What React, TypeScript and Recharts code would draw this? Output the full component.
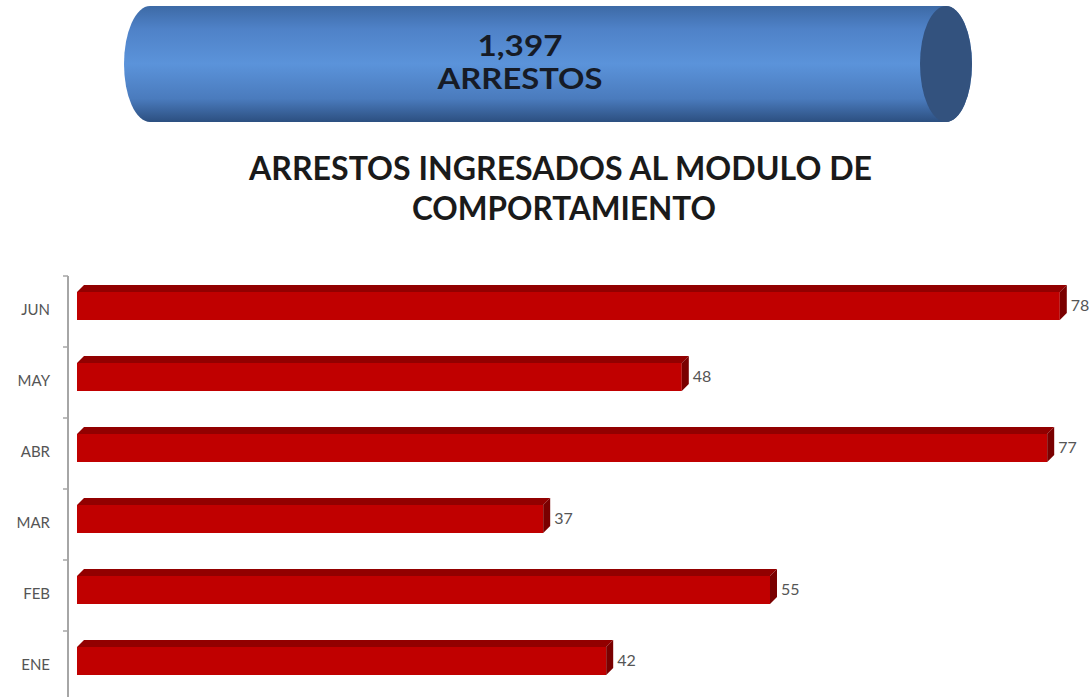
import React from 'react';
import { BarChart, Bar, XAxis, YAxis, LabelList } from 'recharts';

const months = ['JUN', 'MAY', 'ABR', 'MAR', 'FEB', 'ENE'];
const arrests = [78, 48, 77, 37, 55, 42];
const totalArrests = '1,397';
const totalLabel = 'ARRESTOS';
const titleLines = ['ARRESTOS INGRESADOS AL MODULO DE', 'COMPORTAMIENTO'];

const data = months.map((m, i) => ({ month: m, value: arrests[i] }));

const W = 1092;
const CH = 720;
const M = { top: 276, right: 7, bottom: 18, left: 0 };
const AXIS_W = 68;
const BAND = (CH - M.top - M.bottom) / months.length;
const DEPTH = 7;
const LIFT = 9;
const FONT = 'Lato, "Open Sans", sans-serif';

const Bar3D = (props: any) => {
  const { x, y, width, height } = props;
  if (!width || width <= 0) return null;
  const yy = y - LIFT;
  const d = DEPTH;
  const top = `M${x},${yy + d} L${x + d},${yy} L${x + width + d},${yy} L${x + width},${yy + d} Z`;
  const side = `M${x + width},${yy + d} L${x + width + d},${yy} L${x + width + d},${yy + height - d} L${x + width},${yy + height} Z`;
  return (
    <g>
      <rect x={x} y={yy + d} width={width} height={height - d} fill="#c00000" />
      <path d={top} fill="#920000" />
      <path d={side} fill="#7a0000" />
    </g>
  );
};

const ValueLabel = (props: any) => {
  const { x, y, width, value } = props;
  return (
    <text
      x={x + width + DEPTH + 4}
      y={y - LIFT + 22}
      fill="#555555"
      fontSize={16}
      fontFamily={FONT}
      dominantBaseline="middle"
    >
      {value}
    </text>
  );
};

const CatTick = (props: any) => {
  const { y, payload, index } = props;
  const ax = AXIS_W;
  return (
    <g>
      <line x1={ax - 5} x2={ax} y1={y - BAND / 2} y2={y - BAND / 2} stroke="#a6a6a6" strokeWidth={1.5} />
      {index === months.length - 1 && (
        <line x1={ax - 5} x2={ax} y1={y + BAND / 2} y2={y + BAND / 2} stroke="#a6a6a6" strokeWidth={1.5} />
      )}
      <text
        x={ax - 18}
        y={y}
        textAnchor="end"
        dominantBaseline="middle"
        fill="#555555"
        fontSize={15}
        fontFamily={FONT}
      >
        {payload.value}
      </text>
    </g>
  );
};

const Header = () => (
  <svg width={W} height={240} style={{ position: 'absolute', left: 0, top: 0 }}>
    <defs>
      <linearGradient id="cyl" x1="0" y1="0" x2="0" y2="1">
        <stop offset="0%" stopColor="#3d6aa6" />
        <stop offset="20%" stopColor="#4f82c8" />
        <stop offset="50%" stopColor="#5b93da" />
        <stop offset="80%" stopColor="#4a7bbd" />
        <stop offset="100%" stopColor="#2c4f80" />
      </linearGradient>
    </defs>
    <path
      d="M150,6 L946,6 A26,58 0 0 1 946,122 L150,122 A26,58 0 0 1 150,6 Z"
      fill="url(#cyl)"
    />
    <ellipse cx={946} cy={64} rx={26} ry={58} fill="#33527e" />
    <text x={520} y={56} textAnchor="middle" fontFamily={FONT} fontWeight={700} fontSize={28} fill="#161b26" textLength={85} lengthAdjust="spacingAndGlyphs">
      {totalArrests}
    </text>
    <text x={520} y={89} textAnchor="middle" fontFamily={FONT} fontWeight={700} fontSize={28} fill="#161b26" textLength={165} lengthAdjust="spacingAndGlyphs">
      {totalLabel}
    </text>
    <text x={560.5} y={180} textAnchor="middle" fontFamily={FONT} fontWeight={700} fontSize={33} fill="#1a1a1a" textLength={623} lengthAdjust="spacingAndGlyphs">
      {titleLines[0]}
    </text>
    <text x={564} y={220} textAnchor="middle" fontFamily={FONT} fontWeight={700} fontSize={33} fill="#1a1a1a" textLength={304} lengthAdjust="spacingAndGlyphs">
      {titleLines[1]}
    </text>
  </svg>
);

export default function App() {
  return (
    <div
      style={{
        position: 'absolute',
        left: 0,
        top: 0,
        width: W,
        height: 697,
        overflow: 'hidden',
        background: '#ffffff',
        fontFamily: FONT,
      }}
    >
      <Header />
      <div style={{ position: 'absolute', left: 0, top: 0 }}>
        <BarChart width={W} height={CH} data={data} layout="vertical" margin={M}>
          <XAxis type="number" hide domain={[-0.714, 80]} allowDataOverflow />
          <YAxis
            type="category"
            dataKey="month"
            width={AXIS_W}
            axisLine={{ stroke: '#a6a6a6', strokeWidth: 2 }}
            tickLine={false}
            tick={<CatTick />}
            interval={0}
          />
          <Bar dataKey="value" barSize={35} shape={<Bar3D />} isAnimationActive={false}>
            <LabelList dataKey="value" content={<ValueLabel />} />
          </Bar>
        </BarChart>
      </div>
    </div>
  );
}
